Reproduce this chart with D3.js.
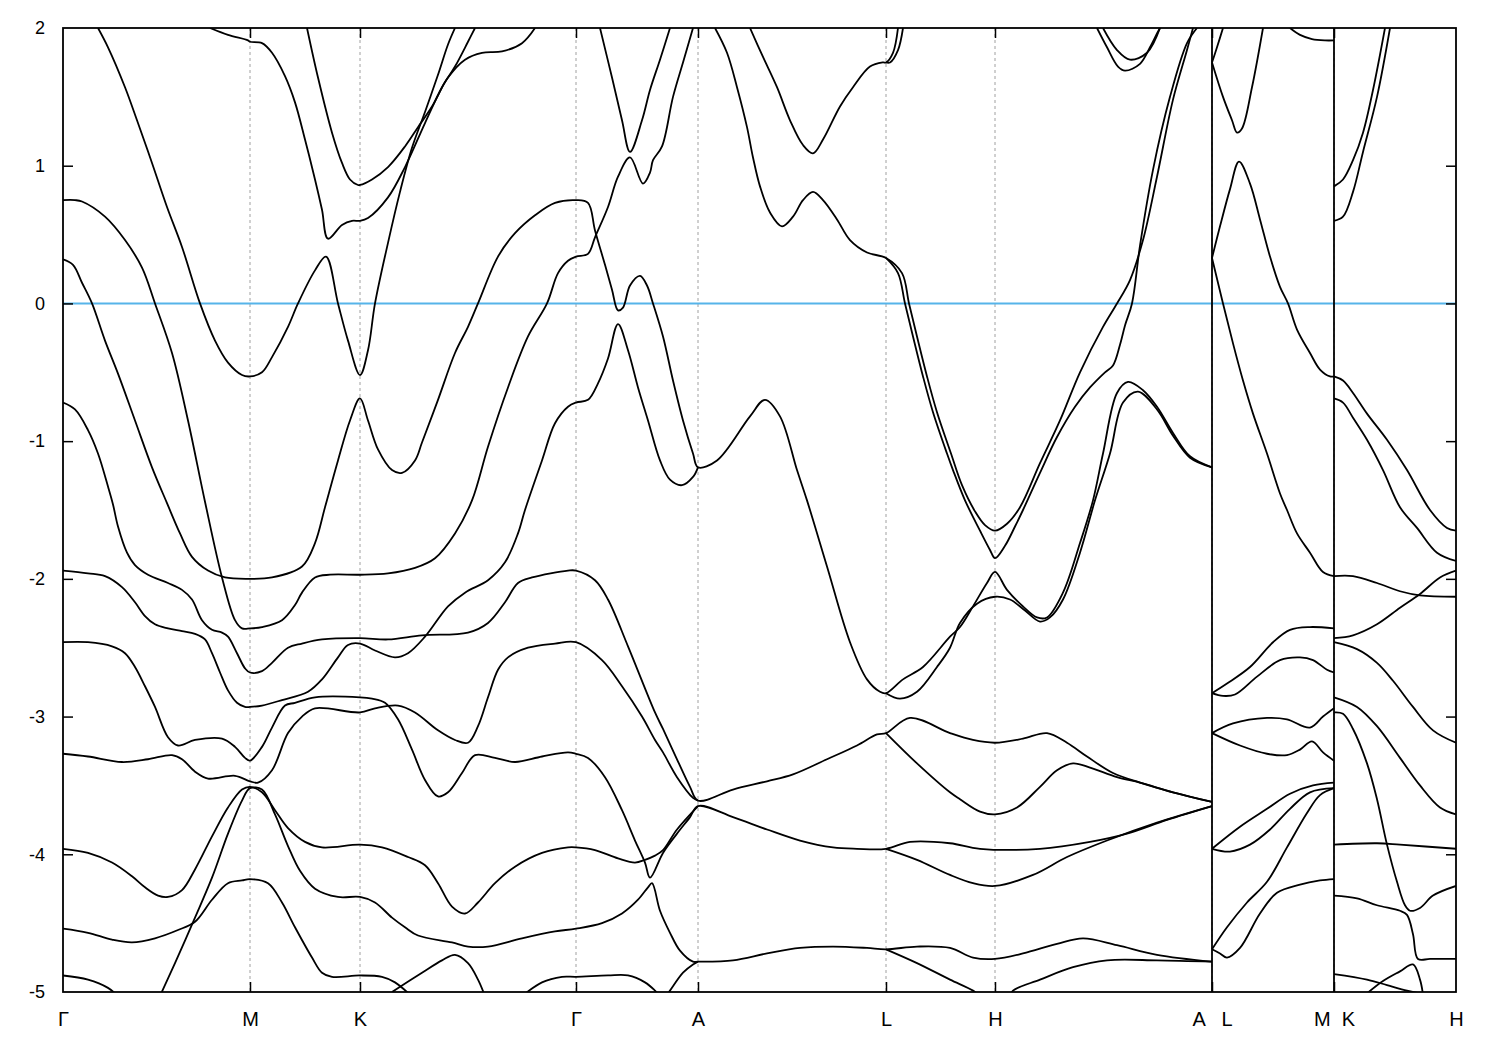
<!DOCTYPE html>
<html><head><meta charset="utf-8">
<script src="https://cdn.jsdelivr.net/npm/d3@7"></script>
<style>body{margin:0;background:#fff}</style>
</head><body><svg id="chart" width="1500" height="1050"></svg>
<script>
// k-path positions of the high-symmetry points (path length units)
const symPoints = [0,187,297,513,635,823,932,1149,1271,1393];
const symLabels = ["Γ","M","K","Γ","A","L","H","A   L","M  K","H"];
const yTicks = [-5,-4,-3,-2,-1,0,1,2];
const breaks = [1149,1271];
const fermi = 0;

// bands: [k, E(eV)]
const band01 = [[0,0.75],[12,0.75],[19,0.74],[42,0.63],[62,0.46],[79,0.26],[92,0.00],[109,-0.36],[125,-0.85],[142,-1.44],[159,-1.99],[172,-2.30],[179,-2.36],[187,-2.36],[199,-2.35],[219,-2.30],[232,-2.19],[239,-2.10],[252,-1.99],[267,-1.97],[297,-1.97],[325,-1.96],[352,-1.92],[372,-1.85],[392,-1.67],[409,-1.43],[425,-1.04],[445,-0.61],[465,-0.24],[484,0.00],[495,0.22],[505,0.31],[513,0.34],[525,0.36],[532,0.48],[545,0.70],[555,0.92],[567,1.06],[580,0.87],[587,0.95],[590,1.04],[599,1.14],[610,1.50],[620,1.75],[630,2.00]];
const band02 = [[0,0.32],[10,0.28],[19,0.15],[29,0.00],[42,-0.27],[55,-0.51],[72,-0.85],[89,-1.19],[104,-1.45],[117,-1.67],[129,-1.84],[145,-1.94],[162,-1.99],[187,-2.00],[209,-1.99],[239,-1.91],[252,-1.74],[262,-1.48],[275,-1.14],[287,-0.85],[297,-0.69],[305,-0.85],[315,-1.06],[329,-1.21],[339,-1.23],[352,-1.14],[359,-1.01],[375,-0.70],[392,-0.36],[405,-0.17],[415,0.00],[435,0.34],[452,0.51],[472,0.64],[492,0.73],[513,0.75],[525,0.73],[532,0.53],[542,0.28],[549,0.10],[555,-0.05],[560,-0.03],[567,0.13],[577,0.20],[584,0.13],[590,0.00],[600,-0.24],[610,-0.56],[620,-0.85],[630,-1.09],[635,-1.19],[654,-1.14],[687,-0.82],[702,-0.70],[717,-0.82],[734,-1.21],[744,-1.43],[764,-1.91],[787,-2.46],[804,-2.73],[817,-2.82],[823,-2.83],[840,-2.73],[860,-2.64],[887,-2.42],[897,-2.35],[910,-2.20],[924,-2.03],[932,-1.95],[944,-2.08],[960,-2.20],[974,-2.28],[984,-2.28],[1000,-2.10],[1017,-1.74],[1030,-1.43],[1040,-1.09],[1054,-0.65],[1065,-0.57],[1080,-0.63],[1094,-0.75],[1110,-0.94],[1127,-1.11],[1149,-1.19]];
const band03 = [[0,-0.72],[12,-0.77],[25,-0.92],[35,-1.09],[45,-1.33],[50,-1.46],[55,-1.62],[64,-1.81],[72,-1.90],[85,-1.97],[105,-2.03],[119,-2.08],[129,-2.15],[139,-2.30],[149,-2.37],[159,-2.39],[165,-2.42],[174,-2.54],[182,-2.65],[187,-2.68],[199,-2.67],[209,-2.61],[225,-2.50],[239,-2.47],[259,-2.44],[297,-2.43],[325,-2.44],[359,-2.41],[405,-2.39],[425,-2.32],[442,-2.17],[455,-2.03],[469,-1.99],[505,-1.94],[513,-1.94],[532,-2.01],[545,-2.15],[565,-2.49],[592,-2.97],[600,-3.09],[614,-3.31],[627,-3.51],[635,-3.61],[670,-3.53],[704,-3.47],[730,-3.42],[764,-3.31],[794,-3.21],[814,-3.13],[823,-3.12],[847,-3.01],[887,-3.12],[910,-3.17],[932,-3.19],[960,-3.16],[984,-3.12],[1004,-3.19],[1024,-3.29],[1050,-3.41],[1077,-3.48],[1110,-3.55],[1149,-3.62]];
const band04 = [[0,-1.94],[25,-1.96],[42,-1.98],[59,-2.06],[72,-2.17],[82,-2.27],[92,-2.33],[105,-2.36],[119,-2.38],[132,-2.40],[142,-2.44],[149,-2.54],[157,-2.68],[165,-2.81],[174,-2.90],[182,-2.93],[187,-2.93],[199,-2.92],[219,-2.88],[245,-2.82],[259,-2.73],[275,-2.57],[285,-2.48],[297,-2.47],[312,-2.52],[332,-2.57],[345,-2.54],[362,-2.42],[385,-2.20],[402,-2.10],[425,-2.01],[442,-1.88],[455,-1.67],[462,-1.50],[479,-1.14],[492,-0.87],[505,-0.75],[513,-0.72],[525,-0.70],[535,-0.58],[545,-0.40],[555,-0.15],[565,-0.34],[575,-0.61],[585,-0.85],[597,-1.14],[607,-1.28],[619,-1.32],[630,-1.26],[635,-1.19]];
const band04b = [[823,-2.83],[837,-2.87],[854,-2.82],[874,-2.64],[887,-2.50],[897,-2.32],[914,-2.18],[932,-2.13],[947,-2.15],[962,-2.23],[977,-2.31],[987,-2.28],[1000,-2.15],[1017,-1.81],[1032,-1.43],[1047,-1.09],[1060,-0.72],[1075,-0.64],[1094,-0.77],[1110,-0.96],[1127,-1.12],[1149,-1.19]];
const band05 = [[0,-2.46],[25,-2.46],[49,-2.49],[62,-2.54],[72,-2.64],[82,-2.78],[92,-2.93],[105,-3.15],[115,-3.21],[132,-3.17],[159,-3.16],[172,-3.22],[182,-3.30],[187,-3.32],[199,-3.22],[209,-3.08],[222,-2.92],[232,-2.90],[252,-2.86],[297,-2.86],[309,-2.87],[322,-2.90],[335,-3.02],[349,-3.24],[362,-3.46],[375,-3.58],[385,-3.55],[399,-3.41],[412,-3.28],[432,-3.30],[452,-3.33],[479,-3.29],[505,-3.26],[513,-3.27],[525,-3.30],[542,-3.44],[559,-3.68],[572,-3.90],[582,-4.06],[587,-4.17],[600,-3.99],[614,-3.85],[627,-3.73],[635,-3.65],[670,-3.73],[704,-3.82],[737,-3.90],[770,-3.95],[794,-3.96],[823,-3.96],[847,-3.91],[887,-3.92],[917,-3.96],[977,-3.96],[1027,-3.91],[1064,-3.85],[1104,-3.75],[1149,-3.65]];
const band06 = [[0,-3.27],[25,-3.29],[59,-3.33],[85,-3.31],[109,-3.28],[119,-3.31],[132,-3.40],[145,-3.45],[172,-3.43],[187,-3.47],[195,-3.48],[209,-3.39],[225,-3.12],[239,-3.00],[252,-2.94],[297,-2.97],[312,-2.94],[335,-2.92],[352,-2.97],[375,-3.10],[392,-3.17],[405,-3.19],[415,-3.07],[425,-2.86],[435,-2.66],[445,-2.57],[465,-2.50],[492,-2.47],[513,-2.46],[539,-2.59],[559,-2.78],[579,-3.00],[592,-3.17],[600,-3.26],[614,-3.44],[630,-3.59],[635,-3.61]];
const band06b = [[823,-3.12],[854,-3.34],[887,-3.55],[897,-3.60],[917,-3.69],[932,-3.71],[954,-3.66],[977,-3.51],[994,-3.39],[1010,-3.34],[1027,-3.37],[1054,-3.44],[1077,-3.48],[1110,-3.55],[1149,-3.62]];
const band07 = [[0,-3.96],[25,-3.99],[49,-4.06],[69,-4.16],[82,-4.24],[95,-4.30],[105,-4.31],[119,-4.26],[132,-4.11],[149,-3.87],[165,-3.66],[179,-3.53],[187,-3.51],[199,-3.55],[212,-3.68],[225,-3.81],[242,-3.91],[259,-3.95],[297,-3.93],[319,-3.95],[345,-4.02],[362,-4.08],[375,-4.21],[389,-4.38],[402,-4.43],[415,-4.35],[432,-4.21],[452,-4.09],[479,-3.99],[505,-3.95],[513,-3.95],[532,-3.97],[555,-4.03],[572,-4.06],[582,-4.04],[592,-4.01],[600,-3.97],[614,-3.82],[635,-3.65]];
const band07b = [[823,-3.96],[854,-4.04],[887,-4.15],[910,-4.21],[932,-4.23],[970,-4.15],[1004,-4.02],[1044,-3.90],[1094,-3.77],[1149,-3.65]];
const band08 = [[0,-4.54],[25,-4.57],[49,-4.62],[69,-4.64],[92,-4.61],[115,-4.55],[132,-4.49],[149,-4.33],[165,-4.21],[179,-4.19],[187,-4.18],[205,-4.21],[219,-4.35],[232,-4.53],[249,-4.75],[259,-4.86],[269,-4.89],[297,-4.88],[319,-4.89],[332,-4.93],[347,-5.02]];
const band09 = [[95,-5.06],[112,-4.79],[132,-4.46],[149,-4.17],[165,-3.85],[179,-3.61],[187,-3.52],[199,-3.53],[212,-3.71],[225,-3.94],[237,-4.12],[252,-4.25],[275,-4.31],[297,-4.31],[312,-4.35],[329,-4.46],[342,-4.53],[355,-4.59],[389,-4.64],[405,-4.67],[425,-4.67],[459,-4.61],[492,-4.56],[513,-4.54],[539,-4.50],[559,-4.43],[575,-4.33],[585,-4.24],[589,-4.21],[597,-4.41],[607,-4.57],[617,-4.70],[630,-4.78],[635,-4.78],[670,-4.77],[704,-4.72],[737,-4.68],[770,-4.67],[804,-4.68],[823,-4.69],[854,-4.67],[887,-4.68],[910,-4.75],[932,-4.76],[960,-4.72],[994,-4.65],[1020,-4.61],[1054,-4.66],[1094,-4.73],[1149,-4.78]];
const band10 = [[0,-4.88],[25,-4.91],[45,-4.97],[55,-5.03]];
const band11 = [[329,-5.00],[359,-4.86],[379,-4.77],[392,-4.73],[405,-4.79],[415,-4.91],[422,-5.03]];
const band12 = [[459,-5.03],[479,-4.93],[499,-4.89],[513,-4.89],[545,-4.88],[565,-4.88],[582,-4.93],[592,-4.99],[597,-5.03]];
const band13 = [[603,-5.03],[607,-4.99],[620,-4.86],[630,-4.80],[635,-4.78]];
const band13b = [[823,-4.69],[854,-4.79],[887,-4.91],[910,-4.99],[917,-5.03]];
const band14 = [[947,-5.03],[950,-4.99],[977,-4.91],[1010,-4.82],[1044,-4.77],[1094,-4.77],[1149,-4.78]];
const band15 = [[35,2.00],[45,1.86],[62,1.57],[74,1.33],[89,1.02],[104,0.70],[119,0.41],[137,0.00],[152,-0.27],[165,-0.43],[179,-0.52],[187,-0.53],[199,-0.50],[209,-0.39],[225,-0.17],[235,0.00],[252,0.24],[263,0.34],[275,0.00],[285,-0.27],[297,-0.52],[305,-0.34],[312,0.00],[325,0.44],[337,0.81],[349,1.13],[362,1.39],[375,1.66],[385,1.88],[392,2.00]];
const band16 = [[147,2.00],[165,1.95],[185,1.91],[187,1.90],[199,1.89],[209,1.82],[222,1.65],[232,1.46],[242,1.19],[252,0.90],[259,0.68],[265,0.47],[279,0.57],[289,0.60],[297,0.60],[305,0.62],[325,0.77],[342,0.99],[362,1.31],[379,1.57],[392,1.72],[405,1.90],[412,2.00]];
const band17 = [[244,2.00],[255,1.64],[269,1.24],[279,1.02],[287,0.90],[295,0.86],[297,0.86],[309,0.90],[325,0.99],[342,1.14],[355,1.28],[369,1.43],[385,1.64],[402,1.77],[419,1.82],[439,1.83],[459,1.89],[472,2.00]];
const band18 = [[537,2.00],[549,1.64],[559,1.33],[567,1.10],[579,1.33],[587,1.55],[597,1.77],[607,2.00]];
const band19 = [[652,2.00],[664,1.82],[674,1.57],[684,1.28],[690,1.06],[697,0.85],[707,0.66],[719,0.56],[730,0.63],[740,0.75],[750,0.81],[760,0.75],[774,0.61],[787,0.46],[804,0.37],[823,0.33],[839,0.22],[846,0.00],[854,-0.24],[864,-0.53],[874,-0.79],[888,-1.09],[899,-1.32],[912,-1.51],[922,-1.61],[932,-1.65],[944,-1.60],[957,-1.48],[977,-1.16],[997,-0.85],[1017,-0.50],[1040,-0.17],[1054,0.00],[1067,0.17],[1080,0.46],[1094,0.92],[1110,1.48],[1124,1.84],[1130,2.00]];
const band20 = [[823,0.33],[835,0.22],[842,0.00],[850,-0.24],[860,-0.53],[870,-0.79],[884,-1.09],[890,-1.21],[902,-1.43],[917,-1.65],[927,-1.79],[932,-1.85],[942,-1.76],[952,-1.62],[960,-1.50],[977,-1.23],[994,-0.97],[1012,-0.75],[1027,-0.61],[1042,-0.50],[1050,-0.45],[1057,-0.30],[1062,-0.16],[1069,0.00],[1077,0.42],[1090,0.97],[1107,1.50],[1124,1.89],[1134,2.00]];
const band21 = [[687,2.00],[700,1.79],[714,1.57],[727,1.33],[740,1.15],[750,1.09],[760,1.19],[777,1.43],[790,1.57],[807,1.72],[820,1.75],[823,1.75],[830,1.82],[835,2.00]];
const band22 = [[823,1.75],[827,1.75],[835,1.84],[840,2.00]];
const band23 = [[1034,2.00],[1044,1.86],[1055,1.72],[1062,1.69],[1077,1.74],[1087,1.86],[1094,1.96],[1097,2.00]];
const band24 = [[1040,2.00],[1054,1.84],[1067,1.77],[1084,1.82],[1097,2.00]];
// L - M segment
const bandLM1 = [[1149,1.75],[1154,1.86],[1160,2.00]];
const bandLM2 = [[1149,1.75],[1160,1.50],[1169,1.33],[1174,1.24],[1179,1.27],[1189,1.57],[1200,2.00]];
const bandLM3 = [[1149,0.33],[1157,0.56],[1167,0.83],[1176,1.03],[1187,0.87],[1197,0.61],[1207,0.34],[1217,0.12],[1225,0.00],[1234,-0.19],[1247,-0.36],[1257,-0.48],[1267,-0.53],[1271,-0.53]];
const bandLM4 = [[1149,0.33],[1160,0.00],[1170,-0.29],[1180,-0.56],[1190,-0.80],[1204,-1.09],[1217,-1.38],[1224,-1.50],[1234,-1.67],[1247,-1.81],[1260,-1.95],[1271,-1.98]];
const bandLM5 = [[1227,2.00],[1237,1.95],[1249,1.92],[1262,1.91],[1271,1.91]];
const bandLM6 = [[1149,-2.83],[1164,-2.76],[1187,-2.64],[1210,-2.46],[1227,-2.37],[1247,-2.35],[1271,-2.36]];
const bandLM7 = [[1149,-2.83],[1160,-2.85],[1172,-2.84],[1194,-2.71],[1217,-2.59],[1237,-2.57],[1250,-2.59],[1264,-2.66],[1271,-2.68]];
const bandLM8 = [[1149,-3.12],[1170,-3.05],[1204,-3.01],[1224,-3.02],[1247,-3.08],[1260,-3.00],[1271,-2.94]];
const bandLM9 = [[1149,-3.12],[1177,-3.21],[1204,-3.27],[1224,-3.28],[1237,-3.24],[1249,-3.18],[1260,-3.26],[1271,-3.32]];
const bandLM10 = [[1149,-3.96],[1177,-3.80],[1204,-3.67],[1227,-3.56],[1250,-3.50],[1271,-3.48]];
const bandLM11 = [[1149,-3.96],[1167,-3.98],[1187,-3.93],[1207,-3.82],[1227,-3.67],[1247,-3.55],[1271,-3.52]];
const bandLM12 = [[1149,-4.69],[1164,-4.53],[1184,-4.35],[1204,-4.20],[1224,-3.95],[1244,-3.70],[1257,-3.57],[1271,-3.52]];
const bandLM13 = [[1149,-4.69],[1157,-4.72],[1164,-4.75],[1177,-4.68],[1197,-4.43],[1214,-4.28],[1237,-4.22],[1257,-4.19],[1271,-4.18]];
// K - H segment
const bandKH1 = [[1271,0.85],[1280,0.90],[1290,1.04],[1300,1.24],[1310,1.55],[1322,2.00]];
const bandKH2 = [[1271,0.60],[1280,0.63],[1290,0.81],[1300,1.10],[1314,1.50],[1327,2.00]];
const bandKH3 = [[1271,-0.53],[1280,-0.56],[1290,-0.65],[1304,-0.80],[1324,-0.99],[1344,-1.21],[1367,-1.50],[1384,-1.63],[1393,-1.65]];
const bandKH4 = [[1271,-0.69],[1280,-0.72],[1290,-0.83],[1304,-0.99],[1320,-1.21],[1337,-1.48],[1354,-1.63],[1374,-1.81],[1393,-1.87]];
const bandKH5 = [[1271,-1.98],[1290,-1.98],[1314,-2.03],[1337,-2.09],[1357,-2.12],[1393,-2.13]];
const bandKH6 = [[1271,-2.43],[1290,-2.41],[1314,-2.33],[1337,-2.21],[1357,-2.11],[1377,-1.99],[1393,-1.94]];
const bandKH7 = [[1271,-2.46],[1294,-2.51],[1314,-2.61],[1330,-2.74],[1350,-2.93],[1370,-3.10],[1393,-3.19]];
const bandKH8 = [[1271,-2.86],[1294,-2.93],[1314,-3.07],[1337,-3.30],[1357,-3.50],[1377,-3.66],[1393,-3.71]];
const bandKH9 = [[1271,-2.97],[1280,-2.98],[1290,-3.09],[1304,-3.34],[1314,-3.60],[1324,-3.93],[1334,-4.20],[1342,-4.37],[1347,-4.41],[1357,-4.39],[1370,-4.30],[1393,-4.23]];
const bandKH10 = [[1271,-3.93],[1314,-3.92],[1337,-3.93],[1393,-3.96]];
const bandKH11 = [[1271,-4.30],[1294,-4.32],[1314,-4.37],[1337,-4.41],[1344,-4.44],[1350,-4.58],[1355,-4.76],[1367,-4.76],[1393,-4.76]];
const bandKH12 = [[1271,-4.87],[1304,-4.91],[1324,-4.95],[1344,-4.99],[1357,-5.01]];
const bandKH13 = [[1304,-5.01],[1320,-4.92],[1337,-4.85],[1350,-4.80],[1357,-4.91],[1360,-5.02]];

const bands = [band01,band02,band03,band04,band04b,band05,band06,band06b,band07,band07b,band08,band09,band10,band11,band12,band13,band13b,band14,band15,band16,band17,band18,band19,band20,band21,band22,band23,band24,
  bandLM1,bandLM2,bandLM3,bandLM4,bandLM5,bandLM6,bandLM7,bandLM8,bandLM9,bandLM10,bandLM11,bandLM12,bandLM13,
  bandKH1,bandKH2,bandKH3,bandKH4,bandKH5,bandKH6,bandKH7,bandKH8,bandKH9,bandKH10,bandKH11,bandKH12,bandKH13];

const svg = d3.select("#chart");
svg.append("rect").attr("width",1500).attr("height",1050).attr("fill","#fff");
const L = 63, R = 1456, T = 28, B = 992;
const x = d3.scaleLinear().domain([symPoints[0], symPoints[symPoints.length-1]]).range([L, R]);
const y = d3.scaleLinear().domain([-5, 2]).range([B, T]);
const font = "'Liberation Sans', Arial, Helvetica, sans-serif";

svg.append("clipPath").attr("id","clip").append("rect")
  .attr("x",L).attr("y",T).attr("width",R-L).attr("height",B-T);

// dashed guides at high-symmetry points
svg.append("g").selectAll("line").data(symPoints.slice(1,-1)).join("line")
  .attr("x1",d=>x(d)).attr("x2",d=>x(d)).attr("y1",T).attr("y2",B)
  .attr("stroke","#a0a0a0").attr("stroke-width",1).attr("stroke-dasharray","3,3");

// Fermi level
svg.append("line").attr("x1",L).attr("x2",R).attr("y1",y(fermi)).attr("y2",y(fermi))
  .attr("stroke","#56b4e9").attr("stroke-width",2);

// bands
const line = d3.line().x(d=>x(d[0])).y(d=>y(d[1])).curve(d3.curveCatmullRom.alpha(0.5));
const g = svg.append("g").attr("clip-path","url(#clip)");
g.selectAll("path.band").data(bands).join("path").attr("class","band")
  .attr("d",line).attr("fill","none").attr("stroke","#000").attr("stroke-width",1.8)
  .attr("stroke-linejoin","round");

// segment breaks
g.selectAll("line.brk").data(breaks).join("line").attr("class","brk")
  .attr("x1",d=>x(d)).attr("x2",d=>x(d)).attr("y1",T).attr("y2",B)
  .attr("stroke","#000").attr("stroke-width",1.8);

// axes
const axL = svg.append("g").attr("transform",`translate(${L},0)`)
  .call(d3.axisLeft(y).tickValues(yTicks).tickSize(-10).tickPadding(18).tickFormat(d=>String(d)));
const axR = svg.append("g").attr("transform",`translate(${R},0)`)
  .call(d3.axisRight(y).tickValues(yTicks).tickSize(-10).tickFormat(""));
const axB = svg.append("g").attr("transform",`translate(0,${B})`)
  .call(d3.axisBottom(x).tickValues(symPoints).tickSize(-10).tickPadding(20).tickFormat((d,i)=>symLabels[i]));
const axT = svg.append("g").attr("transform",`translate(0,${T})`)
  .call(d3.axisTop(x).tickValues(symPoints).tickSize(-10).tickFormat(""));
[axL,axR,axB,axT].forEach(a=>{
  a.select(".domain").remove();
  a.selectAll(".tick line").attr("stroke","#000").attr("stroke-width",1.5);
});
axL.selectAll("text").attr("font-family",font).attr("font-size",18).attr("fill","#000");
axB.selectAll("text").attr("font-family",font).attr("font-size",20).attr("fill","#000").style("white-space","pre");
axB.selectAll(".tick line").filter(d=>d===symPoints[0]||d===symPoints[symPoints.length-1]).remove();
axT.selectAll(".tick line").filter(d=>d===symPoints[0]||d===symPoints[symPoints.length-1]).remove();
axL.selectAll(".tick line").filter(d=>d===-5||d===2).remove();
axR.selectAll(".tick line").filter(d=>d===-5||d===2).remove();

// frame
svg.append("rect").attr("x",L).attr("y",T).attr("width",R-L).attr("height",B-T)
  .attr("fill","none").attr("stroke","#000").attr("stroke-width",1.8);
</script></body></html>
